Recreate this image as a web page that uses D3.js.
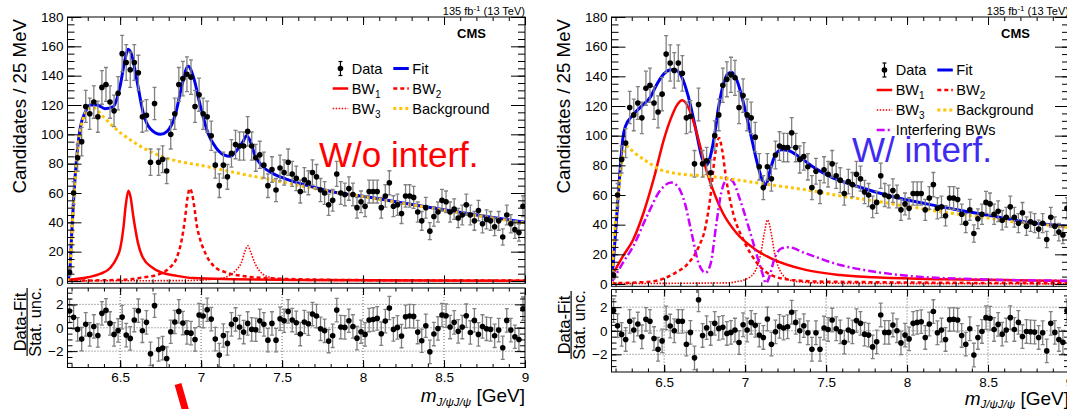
<!DOCTYPE html>
<html>
<head>
<meta charset="utf-8">
<script src="https://cdnjs.cloudflare.com/ajax/libs/d3/7.8.5/d3.min.js"></script>
<style>
  body { margin: 0; background: #fff; }
  svg { display: block; }
</style>
</head>
<body>
<svg id="chart" width="1067" height="409"></svg>
<script>
// binning: 25 MeV bins, 6.175 - 9.0 GeV
const binLow = 6.175, binHigh = 9.0, binWidth = 0.025;

// candidates per bin (same data in both panels)
const counts = [
  6, 60, 84, 95, 119, 114, 122, 112, 132, 134,
  122, 116, 128, 155, 149, 144, 149, 142, 112, 113,
  81, 121, 81, 83, 75, 100, 114, 134, 138, 141,
  139, 119, 127, 114, 112, 99, 79, 65, 79, 71,
  87, 93, 92, 92, 102, 92, 84, 86, 79, 65,
  76, 62, 77, 74, 81, 73, 70, 61, 69, 67,
  74, 71, 62, 60, 52, 55, 73, 60, 59, 63,
  59, 50, 54, 51, 61, 61, 61, 50, 58, 67,
  51, 52, 46, 58, 58, 57, 47, 41, 50, 34,
  44, 47, 55, 54, 47, 49, 43, 45, 52, 45,
  41, 48, 39, 42, 41, 37, 41, 30, 45, 39,
  35, 33, 51
];

// (data - fit) / stat. unc., fit without interference
const pullNoInterf = [
  1.43, 0.89, -0.14, -0.97, 0.29, -0.57, 0.11, -0.66, 1.23, 1.49,
  0.37, -0.57, -0.23, 0.91, -0.63, -0.91, 0.66, 1.46, -0.26, 0.46,
  -2.23, 1.89, -1.86, -1.74, -2.63, -0.34, 0.49, 1.4, 0.4, -0.4,
  -0.46, -1.0, 1.09, 1.0, 1.54, 0.74, -0.97, -2.34, -0.66, -1.34,
  0.29, 0.71, 0.06, -0.37, 0.37, -0.14, -0.17, 0.6, 0.29, -1.06,
  0.37, -1.06, 0.77, 0.6, 1.4, 0.66, 0.43, -0.54, 0.49, 0.34,
  1.17, 1.0, -0.09, -0.26, -1.14, -0.69, 1.51, 0.06, 0.03, 0.6,
  0.11, -0.89, -0.34, -0.57, 0.66, 0.71, 0.8, -0.51, 0.57, 1.69,
  -0.14, 0.03, -0.71, 0.94, 1.0, 0.97, -0.37, -1.11, 0.17, -2.06,
  -0.54, -0.06, 1.09, 1.03, 0.06, 0.46, -0.31, 0.06, 1.03, -0.4,
  0.63, -0.57, 0.11, -0.09, -0.14, -0.69, -0.2, -1.71, 0.63, -0.2,
  -0.77, -1.0, 1.63
];

// (data - fit) / stat. unc., fit with interference
const pullInterf = [
  1.71, 0.43, -0.31, -0.74, 0.8, 0.06, 0.57, -0.51, 0.97, 0.8,
  -0.66, -1.57, -0.86, 1.09, 0.4, 0, 0.8, 0.8, -1.14, -0.14,
  -2.3, 2.63, -0.4, 0.26, -0.23, 0.63, 0.2, 0.29, -0.23, -0.14,
  0.06, -1.0, 0.51, 0.06, 0.71, 0.46, -0.37, -0.57, 1.0, -1.14,
  -0.09, 0.37, 0.23, 0.34, 1.57, 0.71, 0, 0.43, -0.17, -1.57,
  -0.17, -1.57, 0.23, 0.11, 0.91, 0.17, -0.09, -0.97, 0.06, -0.09,
  0.86, 0.63, -0.29, -0.37, -1.37, -0.94, 1.34, -0.14, -0.14, 0.49,
  0, -1.03, -0.37, -0.69, 0.63, 0.71, 0.77, -0.57, 0.57, 1.63,
  -0.17, 0.06, -0.74, 0.94, 0.97, 0.91, -0.4, -1.14, 0.17, -2.06,
  -0.57, -0.06, 1.11, 1.06, 0.11, 0.54, -0.29, 0.06, 1.11, 0.11,
  0.71, -0.49, -0.06, -0.09, -0.12, -0.57, -0.17, -1.71, 0.63, -0.14,
  -0.74, -0.97, 1.69
];

// ---- curves (no interference), [mass, candidates]
const fitNoInterf = [
  [6.175, 0], [6.19, 8], [6.2, 30], [6.212, 54], [6.233, 86], [6.253, 104], [6.284, 115],
  [6.315, 120], [6.356, 120], [6.407, 117.5], [6.459, 119], [6.5, 133], [6.53, 151],
  [6.549, 158], [6.572, 154], [6.603, 137], [6.644, 114], [6.685, 104], [6.75, 100],
  [6.79, 102], [6.84, 113], [6.881, 133], [6.92, 146.5], [6.953, 139], [6.994, 120],
  [7.045, 100], [7.088, 91.5], [7.141, 86], [7.18, 85], [7.216, 88.5], [7.259, 95],
  [7.28, 99], [7.301, 96], [7.333, 85.5], [7.376, 78.5], [7.44, 73.5], [7.525, 69.5],
  [7.645, 65.5], [7.85, 60], [8.0, 57.8], [8.25, 53.2], [8.5, 48.6], [8.75, 44.2], [9.0, 40]
];
const bw1NoInterf = [
  [6.175, 0.8], [6.3, 2.5], [6.38, 5], [6.44, 9], [6.48, 16], [6.5, 22], [6.52, 36],
  [6.535, 52], [6.551, 61.6], [6.565, 57], [6.58, 45], [6.593, 36], [6.61, 26], [6.64, 16],
  [6.7, 9], [6.75, 6], [6.85, 3.5], [6.95, 2], [7.2, 1.2], [7.6, 0.6], [9.0, 0.2]
];
const bw2NoInterf = [
  [6.175, 0.2], [6.5, 0.8], [6.65, 2.5], [6.75, 5], [6.8, 8.5], [6.85, 16], [6.88, 28],
  [6.9, 42], [6.915, 56], [6.93, 63], [6.945, 59], [6.96, 49], [6.973, 38], [6.99, 30],
  [7.03, 18], [7.08, 10], [7.15, 6], [7.25, 3.5], [7.5, 1.5], [8.0, 0.6], [9.0, 0.3]
];
const bw3NoInterf = [
  [6.175, 0.1], [6.9, 0.3], [7.1, 1.5], [7.18, 4], [7.22, 8], [7.247, 12], [7.27, 20],
  [7.288, 24], [7.305, 20], [7.333, 12], [7.36, 7], [7.4, 3.5], [7.5, 1.2], [7.7, 0.4], [9.0, 0.1]
];
const bgNoInterf = [
  [6.175, 0], [6.19, 8], [6.2, 28], [6.212, 52], [6.233, 84], [6.253, 102], [6.284, 114],
  [6.31, 118], [6.336, 118], [6.396, 112], [6.46, 105], [6.566, 96], [6.673, 89],
  [6.779, 84], [6.886, 81], [6.992, 79], [7.1, 76.5], [7.25, 73], [7.5, 67.5], [7.75, 62],
  [8.0, 57.5], [8.25, 52.8], [8.5, 48.2], [8.75, 43.8], [9.0, 39.5]
];

// ---- curves (with interference)
const fitInterf = [
  [6.175, 0], [6.19, 20], [6.21, 50], [6.228, 77], [6.245, 98], [6.26, 106], [6.308, 114],
  [6.372, 121], [6.415, 126], [6.457, 135], [6.5, 141.8], [6.543, 144.5], [6.575, 144],
  [6.607, 140], [6.649, 126.5], [6.692, 106], [6.734, 85], [6.757, 80], [6.777, 83],
  [6.81, 99.5], [6.837, 119.7], [6.862, 133], [6.894, 141.8], [6.916, 142.7], [6.948, 137.7],
  [6.99, 122], [7.033, 101.7], [7.075, 81.5], [7.107, 70], [7.129, 66.8], [7.15, 74.7],
  [7.182, 86], [7.225, 90.5], [7.267, 90], [7.331, 86], [7.416, 79.2], [7.523, 72.5],
  [7.694, 65.7], [7.907, 59], [8.12, 54], [8.333, 49.5], [8.546, 45.5], [8.759, 41.4], [9.0, 38.7]
];
const bw1Interf = [
  [6.175, 5], [6.244, 18.5], [6.308, 29.7], [6.372, 47.7], [6.436, 71], [6.5, 98],
  [6.543, 112], [6.585, 121.5], [6.611, 123.8], [6.645, 120], [6.68, 110], [6.72, 94],
  [6.76, 77], [6.8, 64], [6.862, 48], [6.948, 34.2], [7.054, 24], [7.16, 17.3], [7.374, 9.5],
  [7.587, 6], [7.8, 4.5], [8.226, 3.2], [9.0, 2]
];
const bw2Interf = [
  [6.175, 0.5], [6.415, 1.6], [6.564, 7.2], [6.649, 14], [6.713, 25], [6.756, 38.7],
  [6.788, 61], [6.813, 86], [6.84, 98.5], [6.858, 90.5], [6.884, 70.2], [6.926, 47.7],
  [6.99, 29.7], [7.075, 14], [7.16, 6], [7.289, 2.7], [7.48, 1.6], [9.0, 0.5]
];
const bw3Interf = [
  [6.175, 0.2], [6.6, 0.5], [6.9, 0.8], [6.948, 1.6], [7.0, 3], [7.054, 7.2], [7.097, 20.7],
  [7.12, 35], [7.139, 43.2], [7.16, 35], [7.182, 20.7], [7.225, 7.2], [7.28, 2.5],
  [7.33, 1.6], [7.5, 0.5], [9.0, 0.1]
];
const interfBWs = [
  [6.175, 1], [6.244, 14], [6.308, 25.2], [6.393, 45.5], [6.479, 63.5], [6.543, 68.4],
  [6.585, 65.7], [6.628, 54.5], [6.67, 34.2], [6.713, 14], [6.756, 7.6], [6.788, 14],
  [6.82, 38.7], [6.852, 61.2], [6.894, 71.3], [6.926, 69], [6.969, 56.7], [7.033, 34.2],
  [7.075, 18.5], [7.107, 7.2], [7.129, 0.5], [7.15, 5], [7.182, 17.3], [7.225, 24],
  [7.267, 24.8], [7.374, 20.7], [7.587, 12.8], [7.8, 8.3], [8.013, 5.4], [8.44, 3.2], [9.0, 2.2]
];
const bgInterf = [
  [6.175, 0], [6.19, 27], [6.205, 48], [6.223, 66], [6.244, 86], [6.272, 92.7], [6.308, 89.3],
  [6.393, 82.6], [6.479, 77], [6.564, 74.7], [6.649, 73.6], [6.734, 73], [6.841, 71.8],
  [6.948, 70.2], [7.16, 66.8], [7.374, 63.5], [7.587, 59.4], [7.8, 56], [8.013, 52.2],
  [8.226, 48.4], [8.44, 45.5], [8.653, 42], [8.866, 39.8], [9.0, 38]
];

const xMajor = [6.5, 7, 7.5, 8, 8.5, 9];
const yMajor = [0, 20, 40, 60, 80, 100, 120, 140, 160, 180];
const pullMajor = [-2, 0, 2];

const font = '"Liberation Sans", Arial, Helvetica, sans-serif';

const styles = {
  fit:  { stroke: '#0000f0', width: 3,   dash: null },
  bw1:  { stroke: '#ff0000', width: 2.5, dash: null },
  bw2:  { stroke: '#ff0000', width: 2.5, dash: '4,3' },
  bw3:  { stroke: '#ff0000', width: 1.6, dash: '1.5,1.5' },
  intf: { stroke: '#cc00ff', width: 2.5, dash: '8,3,2,3' },
  bg:   { stroke: '#ffc400', width: 3,   dash: '3,3' }
};

const panels = [
  {
    L: 67.5, R: 525, T: 17, y0: 281, RT: 288, RB: 367.5, pullLim: 3.4, ttl: 402, fracY: 322, legendY: 68.5,
    pulls: pullNoInterf,
    curves: [['fit', fitNoInterf], ['bw1', bw1NoInterf], ['bw2', bw2NoInterf], ['bw3', bw3NoInterf], ['bg', bgNoInterf]],
    tag: 'W/o interf.', tagColor: '#ff0000', tagX: 251.5, tagY: 166.5,
    legend: [
      { key: 'data', col: 0, row: 0, label: 'Data' }, { key: 'fit', col: 1, row: 0, label: 'Fit' },
      { key: 'bw1', col: 0, row: 1, label: 'BW', sub: '1' }, { key: 'bw2', col: 1, row: 1, label: 'BW', sub: '2' },
      { key: 'bw3', col: 0, row: 2, label: 'BW', sub: '3' }, { key: 'bg', col: 1, row: 2, label: 'Background' }
    ]
  },
  {
    L: 611.5, R: 1069, T: 17, y0: 284, RT: 289.5, RB: 372, pullLim: 3.5, ttl: 404.5, fracY: 325, legendY: 70,
    pulls: pullInterf,
    curves: [['fit', fitInterf], ['bw1', bw1Interf], ['bw2', bw2Interf], ['bw3', bw3Interf], ['intf', interfBWs], ['bg', bgInterf]],
    tag: 'W/ interf.', tagColor: '#3f2bef', tagX: 240.5, tagY: 161.5,
    legend: [
      { key: 'data', col: 0, row: 0, label: 'Data' }, { key: 'fit', col: 1, row: 0, label: 'Fit' },
      { key: 'bw1', col: 0, row: 1, label: 'BW', sub: '1' }, { key: 'bw2', col: 1, row: 1, label: 'BW', sub: '2' },
      { key: 'bw3', col: 0, row: 2, label: 'BW', sub: '3' }, { key: 'bg', col: 1, row: 2, label: 'Background' },
      { key: 'intf', col: 0, row: 3, label: 'Interfering BWs' }
    ]
  }
];

const svg = d3.select('#chart').attr('font-family', font);
svg.append('rect').attr('width', 1067).attr('height', 409).attr('fill', '#fff');
const defs = svg.append('defs');

const centers = counts.map((_, i) => binLow + (i + 0.5) * binWidth);

function applyStyle(sel, s) {
  sel.attr('fill', 'none').attr('stroke', s.stroke).attr('stroke-width', s.width);
  if (s.dash) sel.attr('stroke-dasharray', s.dash);
  return sel;
}

// inward tick marks, ROOT style
function ticks(g, axisFn, scale, values, size, at) {
  g.append('g').attr('transform', at)
    .call(axisFn(scale).tickValues(values).tickSize(-size).tickFormat(''))
    .call(a => a.select('.domain').remove())
    .call(a => a.selectAll('line').attr('stroke', '#000').attr('stroke-width', 1));
}

function errorBars(g, xs, ys, lo, hi, yScale) {
  const eb = g.append('g').attr('stroke', '#808080').attr('stroke-width', 1.3);
  xs.forEach((px, i) => {
    const a = yScale(lo[i]), b = yScale(hi[i]);
    eb.append('line').attr('x1', px).attr('x2', px).attr('y1', a).attr('y2', b);
    eb.append('line').attr('x1', px - 2).attr('x2', px + 2).attr('y1', a).attr('y2', a);
    eb.append('line').attr('x1', px - 2).attr('x2', px + 2).attr('y1', b).attr('y2', b);
  });
  g.append('g').selectAll('circle').data(xs).join('circle')
    .attr('cx', d => d).attr('cy', (d, i) => yScale(ys[i])).attr('r', 2.8).attr('fill', '#000');
}

panels.forEach((p, k) => {
  const x = d3.scaleLinear().domain([binLow, binHigh]).range([p.L, p.R]);
  const y = d3.scaleLinear().domain([0, 180]).range([p.y0, p.T]);
  const B1 = p.y0 + 2.3;
  const yr = d3.scaleLinear().domain([-p.pullLim, p.pullLim]).range([p.RB, p.RT]);
  const g = svg.append('g');

  defs.append('clipPath').attr('id', 'ct' + k).append('rect')
    .attr('x', p.L).attr('y', p.T).attr('width', p.R - p.L).attr('height', B1 - p.T);
  defs.append('clipPath').attr('id', 'cr' + k).append('rect')
    .attr('x', p.L).attr('y', p.RT).attr('width', p.R - p.L).attr('height', p.RB - p.RT);

  // ---------- upper pad ----------
  const top = g.append('g').attr('clip-path', `url(#ct${k})`);
  const line = d3.line().x(d => x(d[0])).y(d => y(d[1])).curve(d3.curveMonotoneX);
  p.curves.forEach(([key, pts]) => {
    applyStyle(top.append('path').attr('d', line(pts)), styles[key]);
  });
  errorBars(top, centers.map(x), counts,
    counts.map(n => n - Math.sqrt(n)), counts.map(n => n + Math.sqrt(n)), y);

  g.append('rect').attr('x', p.L).attr('y', p.T).attr('width', p.R - p.L).attr('height', B1 - p.T)
    .attr('fill', 'none').attr('stroke', '#000').attr('stroke-width', 1);

  const xMinor = d3.range(62, 91).map(v => v / 10);
  ticks(g, d3.axisBottom, x, xMajor, 8, `translate(0,${B1})`);
  ticks(g, d3.axisBottom, x, xMinor, 4, `translate(0,${B1})`);
  ticks(g, d3.axisTop, x, xMajor, 8, `translate(0,${p.T})`);
  ticks(g, d3.axisTop, x, xMinor, 4, `translate(0,${p.T})`);
  ticks(g, d3.axisLeft, y, d3.range(0, 181, 5), 7, `translate(${p.L},0)`);
  ticks(g, d3.axisRight, y, yMajor, 14, `translate(${p.R},0)`);
  ticks(g, d3.axisRight, y, d3.range(0, 181, 5), 7, `translate(${p.R},0)`);
  g.append('g').attr('transform', `translate(${p.L},0)`)
    .call(d3.axisLeft(y).tickValues(yMajor).tickSize(-14).tickPadding(4))
    .call(a => a.select('.domain').remove())
    .call(a => a.selectAll('line').attr('stroke', '#000'))
    .attr('font-family', font).attr('font-size', 13.5);

  // titles in the upper pad
  g.append('text').attr('transform', `translate(${p.L - 41.5},${p.T + 2}) rotate(-90)`)
    .attr('text-anchor', 'end').attr('font-size', 18.7).text('Candidates / 25 MeV');
  const lumi = g.append('text').attr('x', p.R).attr('y', p.T - 2.5).attr('text-anchor', 'end')
    .attr('font-size', 11);
  lumi.append('tspan').text('135 fb');
  lumi.append('tspan').attr('font-size', 8).attr('dy', -4).text('-1');
  lumi.append('tspan').attr('dy', 4).text(' (13 TeV)');
  g.append('text').attr('x', p.R - 39).attr('y', p.T + 21).attr('text-anchor', 'end')
    .attr('font-size', 13).attr('font-weight', 'bold').text('CMS');
  g.append('text').attr('x', p.L + p.tagX).attr('y', p.tagY).attr('font-size', 35)
    .attr('fill', p.tagColor).text(p.tag);

  // legend
  p.legend.forEach(e => {
    const yy = p.legendY + e.row * 20;
    const x1 = p.L + (e.col ? 325.8 : 265.2), x2 = x1 + 15.5, tx = x2 + 3.5;
    if (e.key === 'data') {
      const mx = (x1 + x2) / 2;
      const lg = g.append('g').attr('stroke', '#000').attr('stroke-width', 1.2);
      lg.append('line').attr('x1', mx).attr('x2', mx).attr('y1', yy - 7).attr('y2', yy + 7);
      lg.append('line').attr('x1', mx - 2).attr('x2', mx + 2).attr('y1', yy - 7).attr('y2', yy - 7);
      lg.append('line').attr('x1', mx - 2).attr('x2', mx + 2).attr('y1', yy + 7).attr('y2', yy + 7);
      g.append('circle').attr('cx', mx).attr('cy', yy).attr('r', 2.8).attr('fill', '#000');
    } else {
      applyStyle(g.append('line').attr('x1', x1).attr('x2', x2).attr('y1', yy).attr('y2', yy), styles[e.key]);
    }
    const t = g.append('text').attr('x', tx).attr('y', yy + 5).attr('font-size', 14.5);
    t.append('tspan').text(e.label);
    if (e.sub) t.append('tspan').attr('font-size', 10).attr('dy', 4).text(e.sub);
  });

  // ---------- lower pad (pulls) ----------
  const grid = g.append('g').attr('stroke', '#555').attr('stroke-width', 0.9).attr('stroke-dasharray', '1,2');
  pullMajor.forEach(v => grid.append('line').attr('x1', p.L).attr('x2', p.R).attr('y1', yr(v)).attr('y2', yr(v)));
  xMajor.slice(0, 5).forEach(v => grid.append('line').attr('x1', x(v)).attr('x2', x(v)).attr('y1', p.RT).attr('y2', p.RB));

  const low = g.append('g').attr('clip-path', `url(#cr${k})`);
  errorBars(low, centers.map(x), p.pulls, p.pulls.map(v => v - 1), p.pulls.map(v => v + 1), yr);

  g.append('rect').attr('x', p.L).attr('y', p.RT).attr('width', p.R - p.L).attr('height', p.RB - p.RT)
    .attr('fill', 'none').attr('stroke', '#000').attr('stroke-width', 1);

  const pullMinor = d3.range(-6, 7).map(v => v / 2);
  ticks(g, d3.axisBottom, x, xMajor, 7, `translate(0,${p.RB})`);
  ticks(g, d3.axisBottom, x, xMinor, 3.5, `translate(0,${p.RB})`);
  ticks(g, d3.axisTop, x, xMajor, 7, `translate(0,${p.RT})`);
  ticks(g, d3.axisTop, x, xMinor, 3.5, `translate(0,${p.RT})`);
  ticks(g, d3.axisLeft, yr, pullMinor, 5, `translate(${p.L},0)`);
  ticks(g, d3.axisRight, yr, pullMajor, 10, `translate(${p.R},0)`);
  ticks(g, d3.axisRight, yr, pullMinor, 5, `translate(${p.R},0)`);
  g.append('g').attr('transform', `translate(${p.L},0)`)
    .call(d3.axisLeft(yr).tickValues(pullMajor).tickSize(-10).tickPadding(4).tickFormat(v => v < 0 ? '\u2212' + (-v) : String(v)))
    .call(a => a.select('.domain').remove())
    .call(a => a.selectAll('line').attr('stroke', '#000'))
    .attr('font-family', font).attr('font-size', 13.5);
  g.append('g').attr('transform', `translate(0,${p.RB})`)
    .call(d3.axisBottom(x).tickValues(xMajor).tickSize(-7).tickPadding(5).tickFormat(v => String(v)))
    .call(a => a.select('.domain').remove())
    .call(a => a.selectAll('line').attr('stroke', '#000'))
    .attr('font-family', font).attr('font-size', 13.5);

  // pull-axis title as a fraction
  const fy = p.fracY;
  g.append('text').attr('transform', `translate(${p.L - 42},${fy}) rotate(-90)`)
    .attr('text-anchor', 'middle').attr('font-size', 16.5).text('Data-Fit');
  g.append('line').attr('x1', p.L - 40.4).attr('x2', p.L - 40.4).attr('y1', fy - 34).attr('y2', fy + 34)
    .attr('stroke', '#000').attr('stroke-width', 1.2);
  g.append('text').attr('transform', `translate(${p.L - 26.5},${fy}) rotate(-90)`)
    .attr('text-anchor', 'middle').attr('font-size', 16.5).text('Stat. unc.');

  // mass-axis title
  const xt = g.append('text').attr('x', p.R).attr('y', p.ttl).attr('text-anchor', 'end').attr('font-size', 19);
  xt.append('tspan').attr('font-style', 'italic').text('m');
  xt.append('tspan').attr('font-style', 'italic').attr('font-size', 11.5).attr('dy', 3.5).text('J/\u03c8J/\u03c8');
  xt.append('tspan').attr('dy', -3.5).text(' [GeV]');
});

// red marker below the left panel
svg.append('line').attr('x1', 178).attr('y1', 384).attr('x2', 186).attr('y2', 412)
  .attr('stroke', '#ff0000').attr('stroke-width', 7);
</script>
</body>
</html>
